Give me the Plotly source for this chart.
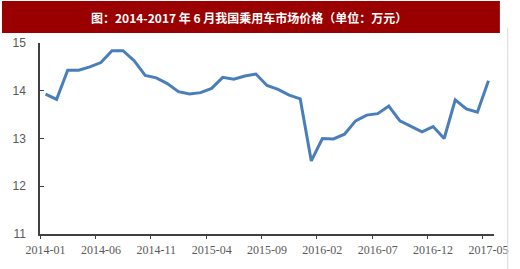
import plotly.graph_objects as go

months = []
for y in range(2014, 2018):
    for m in range(1, 13):
        if y == 2017 and m > 5:
            break
        months.append(f"{y}-{m:02d}")

prices = [13.93, 13.82, 14.43, 14.43, 14.50, 14.59, 14.84, 14.84, 14.63, 14.32,
          14.27, 14.15, 13.98, 13.93, 13.96, 14.05, 14.28, 14.24, 14.31, 14.35,
          14.11, 14.03, 13.91, 13.83, 12.53, 13.00, 12.99, 13.09, 13.37, 13.49,
          13.52, 13.68, 13.37, 13.25, 13.14, 13.25, 13.00, 13.81, 13.62, 13.55,
          14.21]

label_step = 5
title_text = "图：2014-2017 年 6 月我国乘用车市场价格（单位：万元）"
y_ticks = [11, 12, 13, 14, 15]

idx = list(range(len(months)))
label_idx = idx[::label_step]
label_txt = [months[i] for i in label_idx]
boundary_idx = [i - 0.5 for i in label_idx]

fig = go.Figure()
fig.add_trace(go.Scatter(x=idx, y=prices, mode="lines",
                         line=dict(color="#4a7ebb", width=3),
                         hoverinfo="skip", showlegend=False))
fig.add_trace(go.Scatter(x=idx, y=prices, mode="lines", xaxis="x2",
                         line=dict(color="rgba(0,0,0,0)", width=0),
                         hoverinfo="skip", showlegend=False))

xr = [-0.5, len(months) - 0.5]
fig.update_layout(
    width=520, height=269,
    margin=dict(l=38.7, r=19, t=43, b=35),
    paper_bgcolor="white", plot_bgcolor="white",
    xaxis=dict(range=xr, tickvals=label_idx, ticktext=label_txt, ticks="",
               showline=True, linecolor="#404040", linewidth=1.5,
               showgrid=False, zeroline=False, ticklabelstandoff=4,
               tickfont=dict(family="Liberation Serif", size=12, color="#595959")),
    xaxis2=dict(range=xr, overlaying="x", anchor="y", side="bottom",
                tickvals=boundary_idx, ticks="outside", ticklen=4, tickwidth=1.2,
                tickcolor="#404040", showticklabels=False, showline=False,
                showgrid=False, zeroline=False),
    yaxis=dict(range=[11, 15], tickvals=y_ticks, ticks="inside", ticklen=4,
               tickwidth=1.2, tickcolor="#404040",
               showline=True, linecolor="#404040", linewidth=1.5,
               showgrid=False, zeroline=False, ticklabelstandoff=10,
               tickfont=dict(family="Liberation Sans", size=12, color="#595959")),
    shapes=[
        dict(type="rect", xref="paper", yref="paper", x0=-0.0837, x1=1.013,
             y0=1.0524, y1=1.2199, fillcolor="#9b0000", line=dict(width=0), layer="above"),
        dict(type="line", xref="paper", yref="paper", x0=1.0303, x1=1.0303,
             y0=1.0785, y1=-0.183, line=dict(color="#d9d9d9", width=1)),
    ],
    annotations=[
        dict(text="<b>" + title_text + "</b>", xref="paper", yref="paper",
             x=0.4614, y=1.136, xanchor="center", yanchor="middle", showarrow=False,
             font=dict(family="Noto Sans CJK SC", size=12, color="white")),
    ],
)

fig.write_html("out.html")
